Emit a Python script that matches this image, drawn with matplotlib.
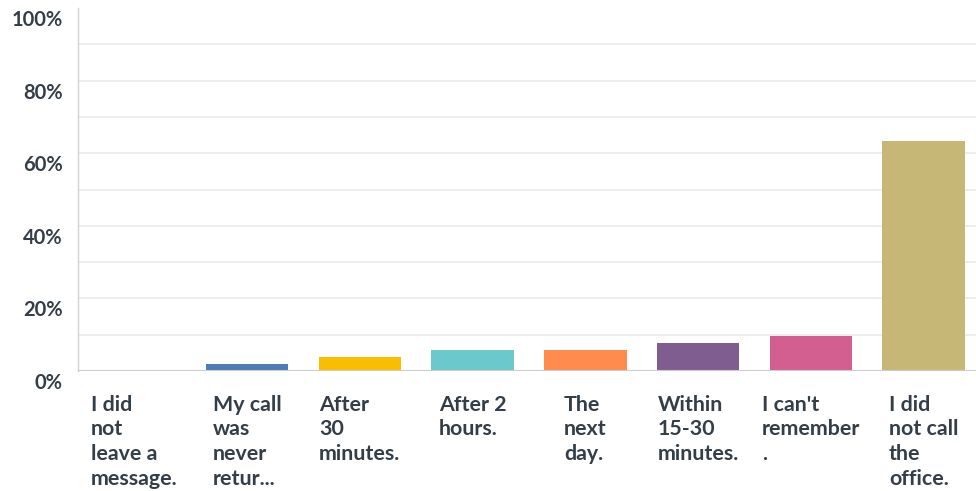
import matplotlib.pyplot as plt
import matplotlib.transforms as mtransforms
import numpy as np

categories = [
    "I did\nnot\nleave a\nmessage.",
    "My call\nwas\nnever\nretur...",
    "After\n30\nminutes.",
    "After 2\nhours.",
    "The\nnext\nday.",
    "Within\n15-30\nminutes.",
    "I can't\nremember\n.",
    "I did\nnot call\nthe\noffice.",
]
values = [0.0, 1.92, 3.85, 5.77, 5.77, 7.69, 9.62, 63.46]
colors = ["#507cb6", "#507cb6", "#f9be00", "#6bc8cd", "#ff8b4f",
          "#7f5d90", "#d25f90", "#c7b777"]
yticks = [0, 20, 40, 60, 80, 100]

text_color = "#333e48"
plt.rcParams["font.family"] = ["Lato", "DejaVu Sans"]

fig = plt.figure(figsize=(9.76, 4.91), dpi=100)
ax = fig.add_axes([78 / 976, 120 / 491, 902 / 976, 363 / 491])

x = np.arange(len(categories))
ax.bar(x, values, width=0.73, color=colors, zorder=3)

ax.set_xlim(-0.5, len(categories) - 0.5)
ax.set_ylim(0, 100)

# light gridlines every 10%
for g in range(10, 100, 10):
    ax.axhline(g, color="#eeeeee", lw=1.4, zorder=1)
ax.axhline(0, color="#cccccc", lw=2.2, zorder=4)

for s in ["top", "right", "bottom"]:
    ax.spines[s].set_visible(False)
ax.spines["left"].set_color("#d3d3d3")
ax.spines["left"].set_linewidth(1.0)

ax.set_yticks(yticks)
ax.set_yticklabels([f"{v}%" for v in yticks])
ax.set_xticks(x)
ax.set_xticklabels(categories)
ax.tick_params(axis="both", length=0, colors=text_color)
ax.tick_params(axis="y", pad=11, labelsize=14.5)
ax.tick_params(axis="x", pad=17, labelsize=15.4)

offset = mtransforms.ScaledTranslation(0, -10 / 100, fig.dpi_scale_trans)
for lab in ax.get_yticklabels():
    lab.set_transform(lab.get_transform() + offset)
    lab.set_fontweight("bold")
for lab in ax.get_xticklabels():
    lab.set_multialignment("left")
    lab.set_linespacing(1.3)
    lab.set_fontweight("bold")

fig.savefig("out.png", dpi=100)
